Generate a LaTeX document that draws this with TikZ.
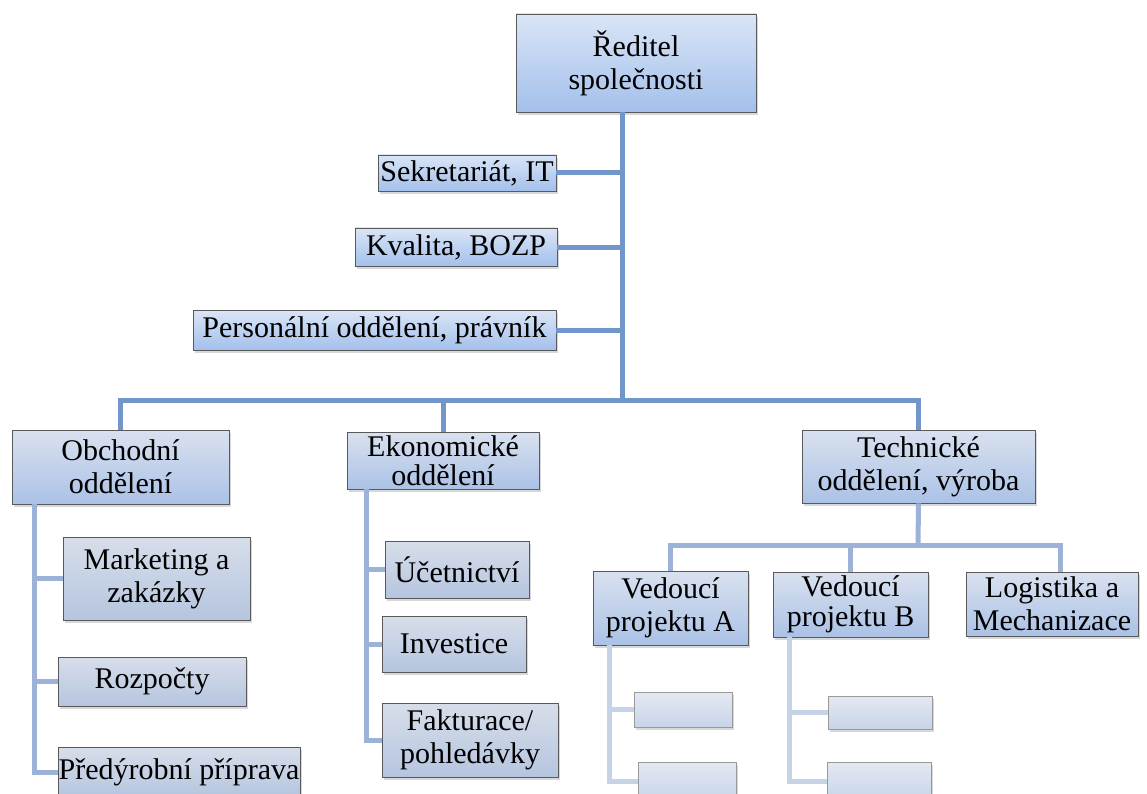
\documentclass[tikz,border=0pt]{standalone}
\usepackage{fontspec}
\setmainfont{Liberation Serif}
\usetikzlibrary{shadows}
\definecolor{linka}{HTML}{7196C9}
\definecolor{linkb}{HTML}{9CB2D7}
\definecolor{linkc}{HTML}{C6D2E6}
\definecolor{boxtop}{HTML}{DAE5F6}
\definecolor{boxbot}{HTML}{A3C0EC}
\definecolor{midtop}{HTML}{D9E1EF}
\definecolor{midbot}{HTML}{ABC2E6}
\definecolor{lowtop}{HTML}{D7DEEA}
\definecolor{lowbot}{HTML}{B5C5DF}
\definecolor{emptop}{HTML}{E4E9F2}
\definecolor{empbot}{HTML}{C8D4E8}
\begin{document}
\begin{tikzpicture}[x=1pt, y=1pt,
	box/.style={draw=black!65, line width=0.8pt, inner sep=0pt, align=center,
		font=\fontsize{30}{33}\selectfont,
		drop shadow={opacity=0.3, shadow xshift=2pt, shadow yshift=-3pt}},
	tight/.style={font=\fontsize{30}{29.5}\selectfont},
	topbox/.style={box, top color=boxtop, bottom color=boxbot},
	midbox/.style={box, top color=midtop, bottom color=midbot},
	lowbox/.style={box, top color=lowtop, bottom color=lowbot},
	empbox/.style={box, draw=black!40, top color=emptop, bottom color=empbot},
	lina/.style={draw=linka, line width=5pt},
	linb/.style={draw=linkb, line width=5pt},
	linc/.style={draw=linkc, line width=5pt}]
	\useasboundingbox (0,0) rectangle (1147,-794);
	\fill[white] (0,0) rectangle (1147,-794);

	\coordinate (hub) at (622,-400);
	\coordinate (thub) at (918,-545);

	\node[topbox, minimum width=240, minimum height=98] (ceo) at (636,-63) {Ředitel\\společnosti};
	\node[topbox, minimum width=178, minimum height=36] (sek) at (467,-173) {Sekretariát, IT};
	\node[topbox, minimum width=202, minimum height=38] (kval) at (456,-247) {Kvalita, BOZP};
	\node[topbox, minimum width=363, minimum height=40] (pers) at (374.5,-330) {Personální oddělení, právník};

	\node[midbox, minimum width=217, minimum height=74] (obch) at (120.5,-467) {Obchodní\\oddělení};
	\node[midbox, tight, minimum width=192, minimum height=57] (ekon) at (443,-460.5) {Ekonomické\\oddělení};
	\node[midbox, minimum width=233, minimum height=73] (tech) at (918.5,-466.5) {Technické\\oddělení, výroba};

	\node[lowbox, minimum width=187, minimum height=83] (mark) at (156.5,-578.5) {Marketing a\\zakázky};
	\node[lowbox, minimum width=188, minimum height=49] (rozp) at (152,-681.5) {Rozpočty};
	\node[lowbox, minimum width=242, minimum height=50] (pred) at (179,-772) {Předýrobní příprava};

	\node[lowbox, minimum width=144, minimum height=57] (ucet) at (457,-569.5) {Účetnictví};
	\node[lowbox, minimum width=144, minimum height=56] (inv) at (454,-644) {Investice};
	\node[lowbox, minimum width=176, minimum height=74] (fakt) at (470,-740) {Fakturace/\\pohledávky};

	\node[midbox, minimum width=155, minimum height=74] (veda) at (670.5,-608) {Vedoucí\\projektu A};
	\node[midbox, tight, minimum width=155, minimum height=65] (vedb) at (850.5,-604.5) {Vedoucí\\projektu B};
	\node[midbox, minimum width=172, minimum height=64] (logi) at (1052,-604) {Logistika a\\Mechanizace};

	\node[empbox, minimum width=98, minimum height=35] (pa1) at (683,-709.5) {};
	\node[empbox, minimum width=98, minimum height=38] (pa2) at (687,-781) {};
	\node[empbox, minimum width=104, minimum height=33] (pb1) at (880,-712.5) {};
	\node[empbox, minimum width=104, minimum height=38] (pb2) at (879,-781) {};

	\draw[lina] (ceo.south -| hub) -- (hub);
	\draw[lina] (sek.east) -- (sek.east -| hub);
	\draw[lina] (kval.east) -- (kval.east -| hub);
	\draw[lina] (pers.east) -- (pers.east -| hub);
	\draw[lina] (obch.north) |- (hub) -| (tech.north);
	\draw[lina] (ekon.north) -- (ekon.north |- hub);

	\draw[linb] ([xshift=23pt]obch.south west) |- (mark.west);
	\draw[linb] ([xshift=23pt]obch.south west) |- (rozp.west);
	\draw[linb] ([xshift=23pt]obch.south west) |- (pred.west);
	\draw[linb] ([xshift=20pt]ekon.south west) |- (ucet.west);
	\draw[linb] ([xshift=20pt]ekon.south west) |- (inv.west);
	\draw[linb] ([xshift=20pt]ekon.south west) |- (fakt.west);
	\draw[linb] (tech.south) -- (thub);
	\draw[linb] (veda.north) |- (thub) -| ([xshift=8pt]logi.north);
	\draw[linb] (vedb.north) -- (vedb.north |- thub);

	\draw[linc] ([xshift=17pt]veda.south west) |- (pa1.west);
	\draw[linc] ([xshift=17pt]veda.south west) |- (pa2.west);
	\draw[linc] ([xshift=17pt]vedb.south west) |- (pb1.west);
	\draw[linc] ([xshift=17pt]vedb.south west) |- (pb2.west);
\end{tikzpicture}
\end{document}
